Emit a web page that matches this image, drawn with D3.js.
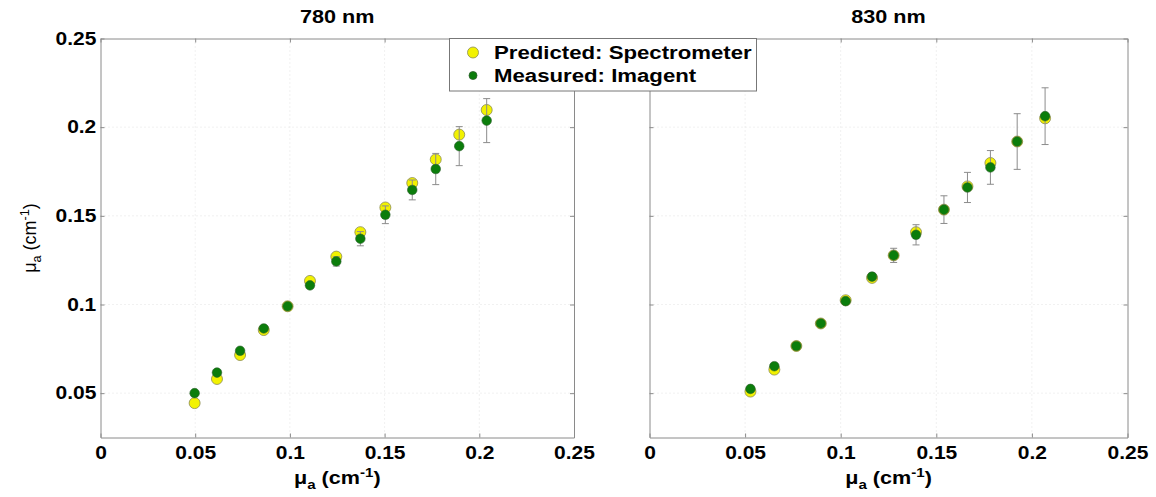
<!DOCTYPE html>
<html>
<head>
<meta charset="utf-8">
<script src="https://cdn.jsdelivr.net/npm/d3@7"></script>
<style>
  body { margin: 0; background: #fff; }
  svg { display: block; font-family: 'Liberation Sans', Arial, sans-serif; }
</style>
</head>
<body>
<script>
// Data
const titles = ['780 nm', '830 nm'];

const trueMuA780 = [0.0497, 0.0615, 0.0737, 0.0862, 0.0988, 0.1106, 0.1245, 0.1372, 0.1504, 0.1646, 0.177, 0.1894, 0.2039];
const predicted780 = [0.0444, 0.058, 0.0715, 0.0856, 0.099, 0.1133, 0.127, 0.1408, 0.1547, 0.1685, 0.1818, 0.1958, 0.2097];
const measured780 = [0.05, 0.0616, 0.0739, 0.0865, 0.099, 0.1108, 0.1243, 0.1371, 0.1506, 0.1646, 0.1764, 0.1893, 0.2037];
const error780 = [0.001, 0.001, 0.001, 0.001, 0.001, 0.0015, 0.0026, 0.004, 0.005, 0.0056, 0.0088, 0.011, 0.0124];

const trueMuA830 = [0.0528, 0.0653, 0.0768, 0.0896, 0.1026, 0.1164, 0.1277, 0.1394, 0.154, 0.1663, 0.1783, 0.1923, 0.2069];
const predicted830 = [0.0509, 0.0633, 0.0766, 0.0893, 0.1024, 0.115, 0.1277, 0.1408, 0.1535, 0.1666, 0.1798, 0.1919, 0.205];
const measured830 = [0.0524, 0.0652, 0.0766, 0.0893, 0.1019, 0.1157, 0.1277, 0.1393, 0.1535, 0.166, 0.1773, 0.1919, 0.2062];
const error830 = [0.001, 0.0015, 0.001, 0.001, 0.0015, 0.002, 0.004, 0.0057, 0.0078, 0.0085, 0.0095, 0.0157, 0.016];

const xTicks = [0, 0.05, 0.1, 0.15, 0.2, 0.25];
const xTickLabels = ['0', '0.05', '0.1', '0.15', '0.2', '0.25'];
const yTicks = [0.05, 0.1, 0.15, 0.2, 0.25];
const yTickLabels = ['0.05', '0.1', '0.15', '0.2', '0.25'];
const legendLabels = ['Predicted: Spectrometer', 'Measured: Imagent'];

// SVG setup
const width = 1156;
const height = 497;
const plotTop = 38.5;
const plotBottom = 437.5;
const stretch = 1.2; // text in the reference is drawn a bit wide

const svg = d3.select('body')
.append('svg')
.attr('width', width)
.attr('height', height);

const panels = [
    { left: 100.5, right: 574, x: trueMuA780, pred: predicted780, meas: measured780, err: error780, yLabels: true },
    { left: 649.5, right: 1127.5, x: trueMuA830, pred: predicted830, meas: measured830, err: error830, yLabels: false }
];

const yScale = d3.scaleLinear()
.domain([0.025, 0.25])
.range([plotBottom, plotTop]);

function muLabel(sel, size) {
    sel.append('tspan').text('\u03bc');
    sel.append('tspan').attr('dy', 5).attr('font-size', size * 0.7).text('a');
    sel.append('tspan').attr('dy', -5).text(' (cm');
    sel.append('tspan').attr('dy', -7).attr('font-size', size * 0.7).text('-1');
    sel.append('tspan').attr('dy', 7).text(')');
}

panels.forEach((p, k) => {
    const xScale = d3.scaleLinear()
    .domain([0, 0.25])
    .range([p.left, p.right]);

    const g = svg.append('g');

    // dotted grid
    g.selectAll('.vgrid')
    .data(xTicks.slice(1, -1))
    .enter()
    .append('line')
    .attr('x1', d => xScale(d))
    .attr('x2', d => xScale(d))
    .attr('y1', plotTop)
    .attr('y2', plotBottom)
    .attr('stroke', '#e2e2e2')
    .attr('stroke-dasharray', '1,3');

    g.selectAll('.hgrid')
    .data(yTicks.slice(0, -1))
    .enter()
    .append('line')
    .attr('x1', p.left)
    .attr('x2', p.right)
    .attr('y1', d => yScale(d))
    .attr('y2', d => yScale(d))
    .attr('stroke', '#e2e2e2')
    .attr('stroke-dasharray', '1,3');

    // axes
    g.append('g')
    .attr('transform', `translate(0,${plotBottom})`)
    .call(d3.axisBottom(xScale)
        .tickValues(xTicks)
        .tickFormat((d, i) => xTickLabels[i])
        .tickSizeInner(-4)
        .tickSizeOuter(0)
        .tickPadding(9));

    g.append('g')
    .attr('transform', `translate(0,${plotTop})`)
    .call(d3.axisTop(xScale).tickValues(xTicks).tickFormat('').tickSizeInner(-4).tickSizeOuter(0));

    g.append('g')
    .attr('transform', `translate(${p.left},0)`)
    .call(d3.axisLeft(yScale)
        .tickValues(yTicks)
        .tickFormat((d, i) => p.yLabels ? yTickLabels[i] : '')
        .tickSizeInner(-4)
        .tickSizeOuter(0)
        .tickPadding(3.5));

    g.append('g')
    .attr('transform', `translate(${p.right},0)`)
    .call(d3.axisRight(yScale).tickValues(yTicks).tickFormat('').tickSizeInner(-4).tickSizeOuter(0));

    g.selectAll('.domain').attr('stroke', '#8a8a8a');
    g.selectAll('.tick line').attr('stroke', '#8a8a8a');
    g.selectAll('.tick text')
    .attr('fill', '#000')
    .attr('font-size', '17.5px')
    .attr('font-weight', 'bold')
    .attr('font-family', "'Liberation Sans', Arial, sans-serif")
    .attr('transform', `scale(${stretch},1)`);

    // title
    svg.append('text')
    .attr('transform', `translate(${(p.left + p.right) / 2},23) scale(${stretch},1)`)
    .attr('text-anchor', 'middle')
    .attr('font-size', '18px')
    .attr('font-weight', 'bold')
    .text(titles[k]);

    // x label
    svg.append('text')
    .attr('transform', `translate(${(p.left + p.right) / 2},484) scale(${stretch},1)`)
    .attr('text-anchor', 'middle')
    .attr('font-size', '18px')
    .attr('font-weight', 'bold')
    .call(muLabel, 18);

    // points
    const idx = d3.range(p.x.length);

    g.selectAll('.pred')
    .data(idx)
    .enter()
    .append('circle')
    .attr('cx', i => xScale(p.x[i]))
    .attr('cy', i => yScale(p.pred[i]))
    .attr('r', 5.5)
    .attr('fill', '#f2f200')
    .attr('stroke', '#8c8c55')
    .attr('stroke-width', 0.8);

    const bars = g.selectAll('.err')
    .data(idx)
    .enter()
    .append('g')
    .attr('stroke', '#8c8c8c')
    .attr('stroke-width', 1);

    bars.append('line')
    .attr('x1', i => xScale(p.x[i]))
    .attr('x2', i => xScale(p.x[i]))
    .attr('y1', i => yScale(p.meas[i] + p.err[i]))
    .attr('y2', i => yScale(p.meas[i] - p.err[i]));

    [1, -1].forEach(s => {
        bars.append('line')
        .attr('x1', i => xScale(p.x[i]) - 3.5)
        .attr('x2', i => xScale(p.x[i]) + 3.5)
        .attr('y1', i => yScale(p.meas[i] + s * p.err[i]))
        .attr('y2', i => yScale(p.meas[i] + s * p.err[i]));
    });

    g.selectAll('.meas')
    .data(idx)
    .enter()
    .append('circle')
    .attr('cx', i => xScale(p.x[i]))
    .attr('cy', i => yScale(p.meas[i]))
    .attr('r', 4.8)
    .attr('fill', '#0b7d0b')
    .attr('stroke', '#2f5f2f')
    .attr('stroke-width', 0.6);
});

// y label
svg.append('text')
.attr('transform', `translate(36,${(plotTop + plotBottom) / 2}) rotate(-90)`)
.attr('text-anchor', 'middle')
.attr('font-size', '18px')
.call(muLabel, 18);

// legend
const legend = svg.append('g');

legend.append('rect')
.attr('x', 449.5)
.attr('y', plotTop)
.attr('width', 307)
.attr('height', 52.5)
.attr('fill', '#fff')
.attr('stroke', '#777');

legendLabels.forEach((label, i) => {
    const cy = 52.5 + i * 23;
    legend.append('circle')
    .attr('cx', 473)
    .attr('cy', cy)
    .attr('r', i === 0 ? 5.5 : 4)
    .attr('fill', i === 0 ? '#f2f200' : '#0b7d0b')
    .attr('stroke', i === 0 ? '#8c8c55' : '#2f5f2f')
    .attr('stroke-width', 0.8);

    legend.append('text')
    .attr('transform', `translate(494,${cy + 6.5}) scale(${stretch},1)`)
    .attr('font-size', '18.5px')
    .attr('font-weight', 'bold')
    .text(label);
});
</script>
</body>
</html>
